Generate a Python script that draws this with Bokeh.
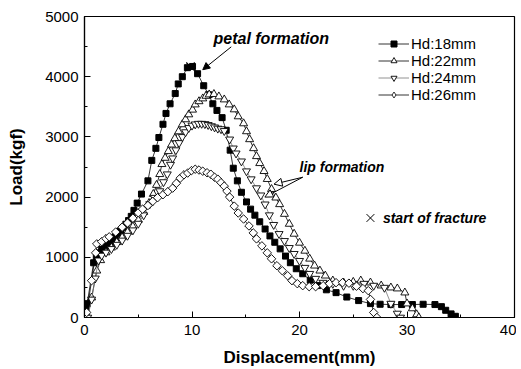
from bokeh.plotting import figure
from bokeh.models import (Range1d, SingleIntervalTicker, Legend, LegendItem, Label,
                          Arrow, NormalHead)
from bokeh.embed import file_html
from bokeh.resources import INLINE

# ---------------- data ----------------
hd18_x = [0.1, 0.25, 0.85, 1.1, 1.35, 1.6, 1.85, 2.1, 2.35, 2.6, 2.85, 3.1, 3.35, 3.6, 3.85,
          4.1, 4.35, 4.6, 4.9, 5.3, 5.9, 6.26, 6.64, 6.92, 7.3, 7.58, 7.96, 8.44, 8.72, 9.1,
          9.57, 10.05, 10.52, 11.09, 11.56, 11.94, 12.32, 12.8, 13.18, 13.55, 13.84, 14.22,
          14.6, 15.07, 15.45, 15.85, 16.3, 16.8, 17.25, 17.7, 18.2, 18.7, 19.15, 19.7, 20.3,
          21.0, 21.7, 22.5, 23.4, 24.4, 25.5, 26.6, 27.5, 28.5, 29.5, 30.5, 31.5, 32.6, 33.2,
          33.6, 34.1, 34.5]
hd18_y = [180, 230, 909, 1000, 1074, 1130, 1180, 1215, 1250, 1295, 1340, 1390, 1440, 1490, 1550,
          1610, 1680, 1780, 1900, 2050, 2270, 2610, 2810, 2990, 3210, 3390, 3550, 3720, 3880, 4000,
          4150, 4170, 4050, 3850, 3700, 3550, 3440, 3320, 3110, 2780, 2480, 2270,
          2080, 1920, 1800, 1700, 1590, 1470, 1355, 1250, 1140, 1020, 910, 810, 727,
          620, 530, 460, 413, 340, 281, 231, 220, 215, 215, 215, 220, 215, 180,
          120, 60, 20]

hd22_x = [0.3, 0.66, 1.14, 1.5, 2.0, 2.5, 3.0, 3.5, 4.0, 4.5, 5.0, 5.5, 6.0, 6.4, 6.7, 7.0, 7.2,
          7.5, 7.8, 8.1, 8.4, 8.75, 9.1, 9.4, 9.7, 10.05, 10.3, 10.65, 11.0, 11.3, 11.6, 12.04,
          12.5, 13.0, 13.46, 13.93, 14.3, 14.8, 15.07, 15.36, 15.73, 16.0, 16.3, 16.7, 17.0,
          17.4, 17.8, 18.15, 18.6, 19.05, 19.5, 20.0, 20.5, 20.95, 21.4, 21.9, 22.4, 23.1,
          24.1, 25.0, 25.7, 26.6, 27.6, 28.5, 29.1, 29.8, 30.0, 30.5, 30.9, 31.1]
hd22_y = [20, 330, 777, 950, 1080, 1160, 1250, 1330, 1420, 1510, 1620, 1750, 1900, 2050, 2200,
          2380, 2546, 2650, 2761, 2870, 2975, 3090, 3207, 3290, 3372, 3450, 3537, 3590, 3637,
          3680, 3703, 3710, 3670, 3620, 3537, 3455, 3339, 3223, 3091, 2959, 2810, 2678, 2562,
          2430, 2298, 2132, 1990, 1880, 1719, 1554, 1389, 1240, 1107, 975, 860, 777, 694, 612,
          579, 590, 612, 579, 529, 496, 480, 413, 231, 150, 50, 0]

hd24_x = [0.3, 0.66, 1.0, 1.3, 1.6, 2.0, 2.5, 3.0, 3.5, 4.0, 4.5, 5.0, 5.5, 6.07, 6.5, 7.0,
          7.35, 7.7, 8.0, 8.2, 8.5, 8.8, 9.1, 9.4, 9.7, 10.0, 10.3, 10.6, 10.9, 11.2, 11.5,
          11.8, 12.1, 12.4, 12.7, 13.0, 13.5, 13.84, 14.1, 14.6, 15.07, 15.5, 16.0, 16.4, 16.8,
          17.2, 17.6, 18.1, 18.6, 19.05, 19.5, 20.0, 20.5, 20.95, 21.5, 22.2, 23.1, 24.1, 25.0,
          26.0, 26.9, 27.9, 28.5, 29.1, 29.4]
hd24_y = [0, 300, 650, 950, 1030, 1080, 1140, 1210, 1280, 1360, 1450, 1560, 1700, 1884, 1990,
          2100, 2250, 2380, 2540, 2645, 2780, 2900, 3000, 3080, 3150, 3190, 3210, 3220, 3220,
          3215, 3200, 3180, 3160, 3140, 3130, 3100, 2959, 2810, 2727, 2595, 2430, 2298, 2149,
          2030, 1880, 1700, 1540, 1389, 1273, 1157, 1058, 942, 827, 727, 645, 579, 562, 529,
          529, 562, 530, 496, 231, 66, 0]

hd26_x = [0.2, 0.66, 1.04, 1.14, 1.6, 2.0, 2.3, 2.9, 3.5, 4.0, 4.5, 5.0, 5.4, 5.9, 6.35, 6.8,
          7.3, 7.75, 8.2, 8.55, 8.9, 9.25, 9.6, 9.95, 10.3, 10.65, 11.0, 11.4, 11.75, 12.1, 12.4,
          12.7, 13.0, 13.25, 13.5, 13.93, 14.3, 14.8, 15.3, 15.7, 16.0, 16.5, 17.0, 17.4, 17.9,
          18.4, 18.9, 19.3, 19.8, 20.3, 20.9, 21.5, 22.2, 22.8, 23.4, 24.0, 24.6, 25.3, 25.9,
          26.4, 26.6, 26.9, 27.2]
hd26_y = [83, 612, 1074, 1223, 1260, 1310, 1340, 1420, 1500, 1570, 1650, 1740, 1800, 1860,
          1930, 1990, 2040, 2090, 2149, 2230, 2314, 2370, 2400, 2440, 2463, 2450, 2430, 2405,
          2380, 2330, 2298, 2240, 2182, 2100, 2000, 1850, 1736, 1636, 1521, 1405, 1306, 1190,
          1074, 975, 860, 777, 694, 612, 562, 529, 512, 512, 529, 562, 579, 579, 570, 520, 480,
          446, 300, 83, 0]

labels = ["Hd:18mm", "Hd:22mm", "Hd:24mm", "Hd:26mm"]
x_ticks_interval = 10
y_ticks_interval = 1000

FONT = "Liberation Sans"

p = figure(width=516, height=369, output_backend="svg", toolbar_location=None,
           x_range=Range1d(0, 40), y_range=Range1d(0, 5000),
           min_border_left=84, min_border_right=2, min_border_top=16, min_border_bottom=10)
p.grid.visible = False
p.outline_line_color = "black"
p.outline_line_width = 1.2
p.background_fill_color = "white"
p.border_fill_color = "white"

p.xaxis.ticker = SingleIntervalTicker(interval=x_ticks_interval, num_minor_ticks=2)
p.yaxis.ticker = SingleIntervalTicker(interval=y_ticks_interval, num_minor_ticks=2)
for ax in (p.xaxis[0], p.yaxis[0]):
    ax.major_tick_in = 6
    ax.major_tick_out = 0
    ax.minor_tick_in = 3
    ax.minor_tick_out = 0
    ax.axis_line_width = 1.2
    ax.major_label_text_font = FONT
    ax.major_label_text_font_size = "15px"
    ax.major_label_text_color = "black"
    ax.axis_label_text_font = FONT
    ax.axis_label_text_font_size = "17px"
    ax.axis_label_text_font_style = "bold"
    ax.axis_label_text_color = "black"
p.xaxis.axis_label = "Displacement(mm)"
p.yaxis.axis_label = "Load(kgf)"
p.xaxis.major_label_standoff = 7
p.yaxis.major_label_standoff = 6
p.xaxis.axis_label_standoff = 10
p.yaxis.axis_label_standoff = 16

lw = 0.8
l18 = p.line(hd18_x, hd18_y, line_color="black", line_width=lw)
s18 = p.scatter(hd18_x, hd18_y, marker="square", size=6, fill_color="black", line_color="black")
l22 = p.line(hd22_x, hd22_y, line_color="black", line_width=lw)
s22 = p.scatter(hd22_x, hd22_y, marker="triangle", size=8, fill_color="white",
                line_color="black", line_width=0.9)
l24 = p.line(hd24_x, hd24_y, line_color="#777777", line_width=lw)
s24 = p.scatter(hd24_x, hd24_y, marker="inverted_triangle", size=8, fill_color="white",
                line_color="black", line_width=0.9)
l26 = p.line(hd26_x, hd26_y, line_color="black", line_width=lw)
# diamond-shaped marker used for the legend swatch (hidden under the rotated squares)
s26_leg = p.scatter(hd26_x, hd26_y, marker="diamond", size=7, fill_color="white",
                    line_color="black", line_width=0.8)
s26 = p.scatter(hd26_x, hd26_y, marker="square", angle=0.785398, size=6, fill_color="white",
                line_color="black", line_width=0.9)

legend = Legend(items=[
    LegendItem(label=labels[0], renderers=[l18, s18]),
    LegendItem(label=labels[1], renderers=[l22, s22]),
    LegendItem(label=labels[2], renderers=[l24, s24]),
    LegendItem(label=labels[3], renderers=[l26, s26_leg]),
], location=(294, 214), orientation="vertical", padding=0, margin=0, spacing=0,
    glyph_width=31, glyph_height=15, label_height=15, label_standoff=2,
    label_text_font=FONT, label_text_font_size="15px", label_text_color="black",
    border_line_color=None, background_fill_alpha=0)
p.add_layout(legend)

# peak / fracture markers
p.scatter([9.86], [4166], marker="x", size=12, line_color="black", line_width=1.2)
p.scatter([26.6], [1653], marker="x", size=11, line_color="black", line_width=1)

p.add_layout(Label(x=12.0, y=4630, text="petal formation", text_font=FONT,
                   text_font_size="16px", text_font_style="bold italic",
                   text_baseline="middle", text_color="black"))
p.add_layout(Arrow(x_start=13.65, y_start=4496, x_end=11.0, y_end=4116, line_width=1,
                   end=NormalHead(size=7, fill_color="black", line_width=1)))

p.add_layout(Label(x=20.0, y=2496, text="lip formation", text_font=FONT,
                   text_font_size="14px", text_font_style="bold italic",
                   text_baseline="middle", text_color="black"))
p.add_layout(Arrow(x_start=20.3, y_start=2330, x_end=17.63, y_end=2215, line_width=1,
                   end=NormalHead(size=8, fill_color="white", line_width=1)))
p.add_layout(Arrow(x_start=20.3, y_start=2330, x_end=16.78, y_end=2000, line_width=1,
                   end=NormalHead(size=8, fill_color="white", line_width=1)))

p.add_layout(Label(x=27.76, y=1653, text="start of fracture", text_font=FONT,
                   text_font_size="14px", text_font_style="bold italic",
                   text_baseline="middle", text_color="black"))

open("out.html", "w").write(file_html(p, INLINE))
